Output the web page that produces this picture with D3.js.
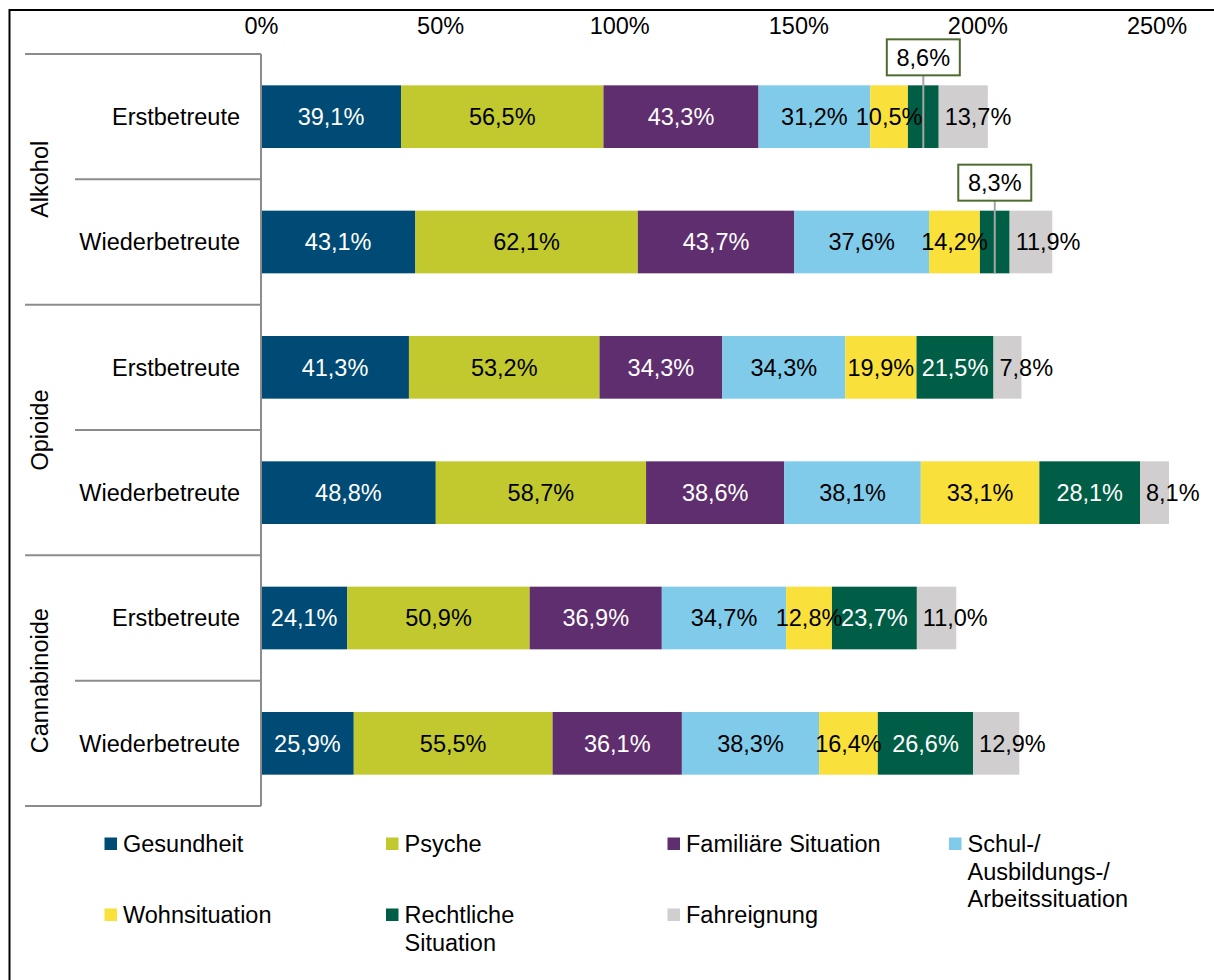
<!DOCTYPE html>
<html>
<head>
<meta charset="utf-8">
<script src="https://cdn.jsdelivr.net/npm/d3@7"></script>
<style>
  body { margin: 0; background: #fff; }
  svg { display: block; font-family: "Liberation Sans", Arial, sans-serif; }
</style>
</head>
<body>
<div id="chart"></div>
<script>
// substances and client groups
const groups = ['Alkohol', 'Opioide', 'Cannabinoide'];
const subgroups = ['Erstbetreute', 'Wiederbetreute'];

// problem areas (stack order)
const seriesNames = [
  'Gesundheit', 'Psyche', 'Familiäre Situation',
  'Schul-/Ausbildungs-/Arbeitssituation', 'Wohnsituation',
  'Rechtliche Situation', 'Fahreignung'
];
const legendLines = [
  ['Gesundheit'], ['Psyche'], ['Familiäre Situation'],
  ['Schul-/', 'Ausbildungs-/', 'Arbeitssituation'], ['Wohnsituation'],
  ['Rechtliche', 'Situation'], ['Fahreignung']
];
const colors = ['#004b75', '#c2c92f', '#5f2e6e', '#80cbea', '#f9e03b', '#005e46', '#d0cecf'];
const labelColors = ['#fff', '#000', '#fff', '#000', '#000', '#fff', '#000'];

// values in % per row, same order as seriesNames
const alkoholErst = [39.1, 56.5, 43.3, 31.2, 10.5, 8.6, 13.7];
const alkoholWieder = [43.1, 62.1, 43.7, 37.6, 14.2, 8.3, 11.9];
const opioideErst = [41.3, 53.2, 34.3, 34.3, 19.9, 21.5, 7.8];
const opioideWieder = [48.8, 58.7, 38.6, 38.1, 33.1, 28.1, 8.1];
const cannabisErst = [24.1, 50.9, 36.9, 34.7, 12.8, 23.7, 11.0];
const cannabisWieder = [25.9, 55.5, 36.1, 38.3, 16.4, 26.6, 12.9];

const xTicks = [0, 50, 100, 150, 200, 250];

// labels shown as boxed callouts above the bar
const calloutSeries = 'Rechtliche Situation';
const calloutRows = ['Alkohol|Erstbetreute', 'Alkohol|Wiederbetreute'];

const rowValues = [alkoholErst, alkoholWieder, opioideErst, opioideWieder, cannabisErst, cannabisWieder];
const table = rowValues.map((vals, i) => {
  let d = {
    id: groups[Math.floor(i / 2)] + '|' + subgroups[i % 2],
    group: groups[Math.floor(i / 2)],
    sub: subgroups[i % 2]
  };
  seriesNames.forEach((s, j) => { d[s] = vals[j]; });
  return d;
});

const W = 1214, H = 980;
const fontSize = 23.5;
const de = d3.formatLocale({ decimal: ',', thousands: '.', grouping: [3], currency: ['', '€'] });
const fmt = de.format('.1f');

const svg = d3.select('#chart').append('svg')
  .attr('width', W)
  .attr('height', H);

// outer frame (right/bottom edges fall outside the picture)
svg.append('rect')
  .attr('x', 9.5).attr('y', 10)
  .attr('width', W + 20).attr('height', H + 20)
  .attr('fill', 'none')
  .attr('stroke', '#000')
  .attr('stroke-width', 2);

const x = d3.scaleLinear().domain([0, 250]).range([261, 1156.5]);
const y = d3.scaleBand()
  .domain(table.map(d => d.id))
  .range([54, 806])
  .paddingInner(0.5)
  .paddingOuter(0.25);

const stack = d3.stack().keys(seriesNames);
const series = stack(table);

// top axis labels
const axis = svg.append('g')
  .attr('transform', 'translate(0,34)')
  .call(d3.axisTop(x).tickValues(xTicks).tickSize(0).tickFormat(d => d + '%'));
axis.select('.domain').remove();
axis.selectAll('text')
  .attr('y', 0).attr('dy', 0)
  .attr('fill', '#000')
  .style('font-size', fontSize + 'px')
  .style('font-family', '"Liberation Sans", Arial, sans-serif');

// bars
const layers = svg.append('g').selectAll('g')
  .data(series)
  .join('g')
  .attr('fill', (d, i) => colors[i]);

layers.selectAll('rect')
  .data(d => d)
  .join('rect')
  .attr('x', d => x(d[0]))
  .attr('y', d => y(d.data.id))
  .attr('width', d => x(d[1]) - x(d[0]))
  .attr('height', y.bandwidth());

// category axis frame
const gridColor = '#8c8c8c';
const step = y.step();
const gap = step - y.bandwidth();
const frame = svg.append('g').attr('stroke', gridColor).attr('stroke-width', 2);
frame.append('line')
  .attr('x1', x(0)).attr('x2', x(0))
  .attr('y1', y.range()[0]).attr('y2', y.range()[1]);

// boundaries between rows
table.forEach((d, i) => {
  let top = y(d.id) - gap / 2;
  frame.append('line')
    .attr('x1', i % 2 === 0 ? 25 : 75)
    .attr('x2', x(0))
    .attr('y1', top).attr('y2', top);
});
frame.append('line')
  .attr('x1', 25).attr('x2', x(0))
  .attr('y1', y.range()[1]).attr('y2', y.range()[1]);

// subgroup labels
svg.append('g').selectAll('text')
  .data(table)
  .join('text')
  .attr('x', 240)
  .attr('y', d => y(d.id) + y.bandwidth() / 2)
  .attr('dy', '0.35em')
  .attr('text-anchor', 'end')
  .style('font-size', fontSize + 'px')
  .text(d => d.sub);

// group labels (rotated)
svg.append('g').selectAll('text')
  .data(groups)
  .join('text')
  .attr('transform', g => {
    let rows = table.filter(d => d.group === g);
    let cy = (y(rows[0].id) + y(rows[rows.length - 1].id) + y.bandwidth()) / 2;
    return `translate(48,${cy}) rotate(-90)`;
  })
  .attr('text-anchor', 'middle')
  .style('font-size', fontSize + 'px')
  .text(g => g);

// value labels
const labelData = [];
series.forEach((s, i) => {
  s.forEach(d => {
    labelData.push({ series: s.key, i: i, row: d.data.id, x0: d[0], x1: d[1], v: d.data[s.key] });
  });
});
const lastIdx = seriesNames.length - 1;

svg.append('g').selectAll('text')
  .data(labelData.filter(d => !(d.series === calloutSeries && calloutRows.includes(d.row))))
  .join('text')
  .attr('x', d => d.i === lastIdx ? x(d.x0) + 6 : (x(d.x0) + x(d.x1)) / 2)
  .attr('y', d => y(d.row) + y.bandwidth() / 2)
  .attr('dy', '0.35em')
  .attr('text-anchor', d => d.i === lastIdx ? 'start' : 'middle')
  .attr('fill', d => labelColors[d.i])
  .style('font-size', fontSize + 'px')
  .text(d => fmt(d.v) + '%');

// callouts
const callouts = svg.append('g').selectAll('g')
  .data(labelData.filter(d => d.series === calloutSeries && calloutRows.includes(d.row)))
  .join('g');
callouts.append('line')
  .attr('x1', d => (x(d.x0) + x(d.x1)) / 2)
  .attr('x2', d => (x(d.x0) + x(d.x1)) / 2)
  .attr('y1', d => y(d.row) - 10)
  .attr('y2', d => y(d.row) + y.bandwidth())
  .attr('stroke', '#a6a6a6')
  .attr('stroke-width', 2);
callouts.append('rect')
  .attr('x', d => (x(d.x0) + x(d.x1)) / 2 - 36.5)
  .attr('y', d => y(d.row) - 10 - 36)
  .attr('width', 73)
  .attr('height', 36)
  .attr('fill', '#fff')
  .attr('stroke', '#4e6b30')
  .attr('stroke-width', 2);
callouts.append('text')
  .attr('x', d => (x(d.x0) + x(d.x1)) / 2)
  .attr('y', d => y(d.row) - 10 - 18)
  .attr('dy', '0.35em')
  .attr('text-anchor', 'middle')
  .style('font-size', fontSize + 'px')
  .text(d => fmt(d.v) + '%');

// legend
const legX = d3.scaleLinear().domain([0, 3]).range([104.5, 949]);
const legY = [844, 915];
const leg = svg.append('g').selectAll('g')
  .data(seriesNames)
  .join('g')
  .attr('transform', (d, i) => `translate(${legX(i % 4)},${legY[Math.floor(i / 4)]})`);
leg.append('rect')
  .attr('x', 0).attr('y', -6.5)
  .attr('width', 12.5).attr('height', 12.5)
  .attr('fill', (d, i) => colors[i]);
leg.append('text')
  .attr('x', 18.5)
  .attr('y', 0)
  .style('font-size', fontSize + 'px')
  .selectAll('tspan')
  .data((d, i) => legendLines[i])
  .join('tspan')
  .attr('x', 18.5)
  .attr('dy', (d, j) => j === 0 ? '0.35em' : '1.17em')
  .text(d => d);
</script>
</body>
</html>
